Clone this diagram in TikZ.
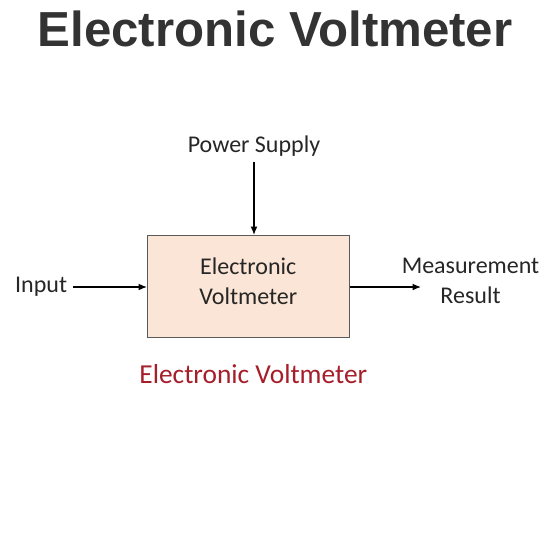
\documentclass[tikz,border=0pt]{standalone}
\usepackage{fontspec}
\setmainfont{Carlito}
\newfontfamily\titlefont{Liberation Sans}
\usetikzlibrary{arrows.meta}
\definecolor{boxfill}{HTML}{FBE5D6}
\definecolor{boxline}{HTML}{5A5A5A}
\definecolor{capred}{HTML}{A51E2A}
\definecolor{titlegray}{HTML}{333333}
\definecolor{txt}{HTML}{262626}
\begin{document}
\begin{tikzpicture}[x=1pt,y=-1pt,
  lbl/.style={font=\fontsize{24}{29.5}\selectfont, text=txt, inner sep=0pt, align=center},
  conn/.style={line width=1.4pt, draw=black, -{Latex[length=8.5pt,width=7pt]}}]
\useasboundingbox[fill=white] (0,0) rectangle (550,550);
\node[font=\titlefont\bfseries\fontsize{49.2}{56}\selectfont, text=titlegray, anchor=base, inner sep=0pt] (title) at (275,46) {Electronic Voltmeter};
\node[draw=boxline, fill=boxfill, line width=1pt, minimum width=201.5pt, minimum height=101.5pt, inner sep=0pt] (box) at (248.25,286.25) {};
\node[lbl] (boxtext) at (248.25,281) {Electronic\\Voltmeter};
\node[lbl, anchor=base] (power) at (254,152) {Power Supply};
\node[lbl, anchor=base west] (input) at (15,292) {Input};
\node[lbl] (meas) at (470.5,281) {Measurement\\Result};
\node[font=\fontsize{27.4}{32}\selectfont, text=capred, anchor=base, inner sep=0pt] (caption) at (253.3,383) {Electronic Voltmeter};
\coordinate (pstart) at (254,162);
\coordinate (istart) at (73,287);
\coordinate (oend) at (421,287);
\draw[conn] (pstart) -- (pstart |- box.north);
\draw[conn] (istart) -- (istart -| box.west);
\draw[conn] (oend -| box.east) -- (oend);
\end{tikzpicture}
\end{document}
